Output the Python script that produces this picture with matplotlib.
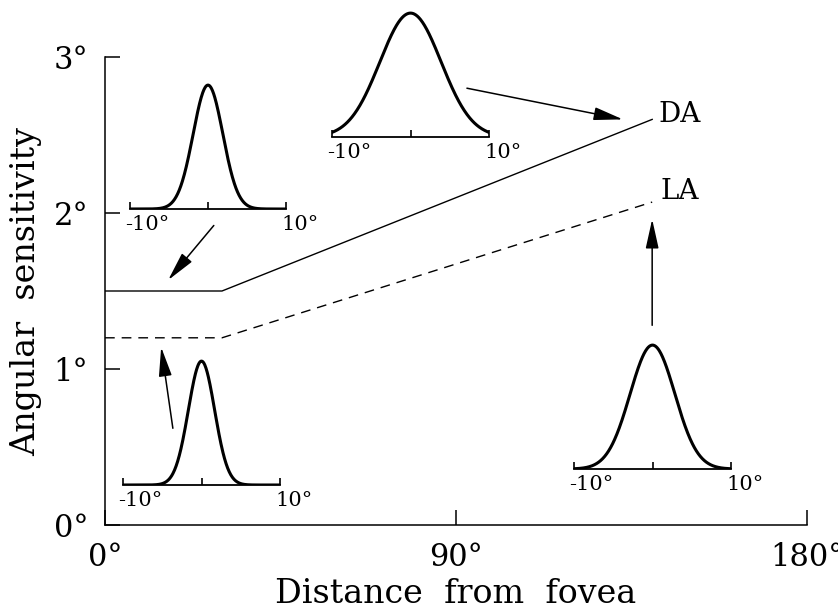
import numpy as np
import matplotlib.pyplot as plt
from matplotlib.transforms import ScaledTranslation

plt.rcParams['font.family'] = ['DejaVu Serif']

# main curves (distance from fovea, angular sensitivity)
da_x = [0, 30, 140.3]
da_y = [1.5, 1.5, 2.60]
la_x = [0, 30, 140.3]
la_y = [1.2, 1.2, 2.07]

x_ticks = [0, 90, 180]
x_labels = ['0°', '90°', '180°']
y_ticks = [0, 1, 2, 3]
y_labels = ['0°', '1°', '2°', '3°']

# receptive profile widths (sigma, deg) for the four small plots
sigmas = {'da_fovea': 1.9, 'da_periph': 3.9, 'la_fovea': 1.67, 'la_periph': 2.85}
inset_ticks = [-10, 0, 10]
inset_labels = ['-10°', '', '10°']

# arrows: (start x, start y, tip x, tip y) in main data units
arrows = [
    (27.9, 1.92, 16.2, 1.57),
    (17.4, 0.62, 14.4, 1.14),
    (92.8, 2.80, 132.8, 2.60),
    (140.3, 1.28, 140.3, 1.96),
]

W, H = 838, 612
fig = plt.figure(figsize=(W / 100, H / 100), dpi=100)
ax = fig.add_axes([105 / W, 1 - 525 / H, 702 / W, 468 / H])

ax.plot(da_x, da_y, color='black', lw=1.0)
ax.plot(la_x, la_y, color='black', lw=1.0, dashes=(7, 5))
ax.text(142.0, 2.63, 'DA', fontsize=20, va='center', ha='left')
ax.text(142.5, 2.14, 'LA', fontsize=20, va='center', ha='left')

ax.set_xlim(0, 180)
ax.set_ylim(0, 3)
ax.spines['top'].set_visible(False)
ax.spines['right'].set_visible(False)
for s in ['left', 'bottom']:
    ax.spines[s].set_linewidth(1.1)
ax.set_xticks(x_ticks)
ax.set_xticklabels(x_labels, fontsize=22)
ax.set_yticks(y_ticks)
ax.set_yticklabels(y_labels, fontsize=22)
ax.tick_params(axis='both', direction='in', length=11, width=1.1)
ax.tick_params(axis='x', pad=12)
ax.tick_params(axis='y', pad=12)
ax.set_xlabel('Distance  from  fovea', fontsize=24, labelpad=4)
ax.set_ylabel('Angular  sensitivity', fontsize=24, labelpad=8)

for x0, y0, x1, y1 in arrows:
    ax.annotate('', xy=(x1, y1), xytext=(x0, y0),
                arrowprops=dict(arrowstyle='-|>,head_length=1.8,head_width=0.4',
                                color='black', lw=1.1, shrinkA=0, shrinkB=0))

# small profile plots: left px, right px, baseline px
boxes = {
    'da_fovea': (130, 286, 209),
    'da_periph': (332, 489, 137),
    'la_fovea': (123, 280, 485),
    'la_periph': (574, 731, 469),
}
t = np.linspace(-10, 10, 400)
shift = ScaledTranslation(-5 / 100, 0, fig.dpi_scale_trans)
for key, (l, r, b) in boxes.items():
    ia = fig.add_axes([l / W, 1 - b / H, (r - l) / W, 127 / H])
    ia.patch.set_visible(False)
    ia.plot(t, np.exp(-t ** 2 / (2 * sigmas[key] ** 2)), color='black', lw=2.2)
    ia.set_xlim(-10, 10)
    ia.set_ylim(0, 1.025)
    for s in ['top', 'right', 'left']:
        ia.spines[s].set_visible(False)
    ia.spines['bottom'].set_linewidth(1.3)
    ia.set_yticks([])
    ia.set_xticks(inset_ticks)
    ia.set_xticklabels(inset_labels, fontsize=15)
    ia.tick_params(axis='x', direction='in', length=5, width=1.2, pad=4)
    for lab in ia.get_xticklabels():
        lab.set_ha('left')
        lab.set_transform(lab.get_transform() + shift)

fig.savefig('out.png', dpi=100)
